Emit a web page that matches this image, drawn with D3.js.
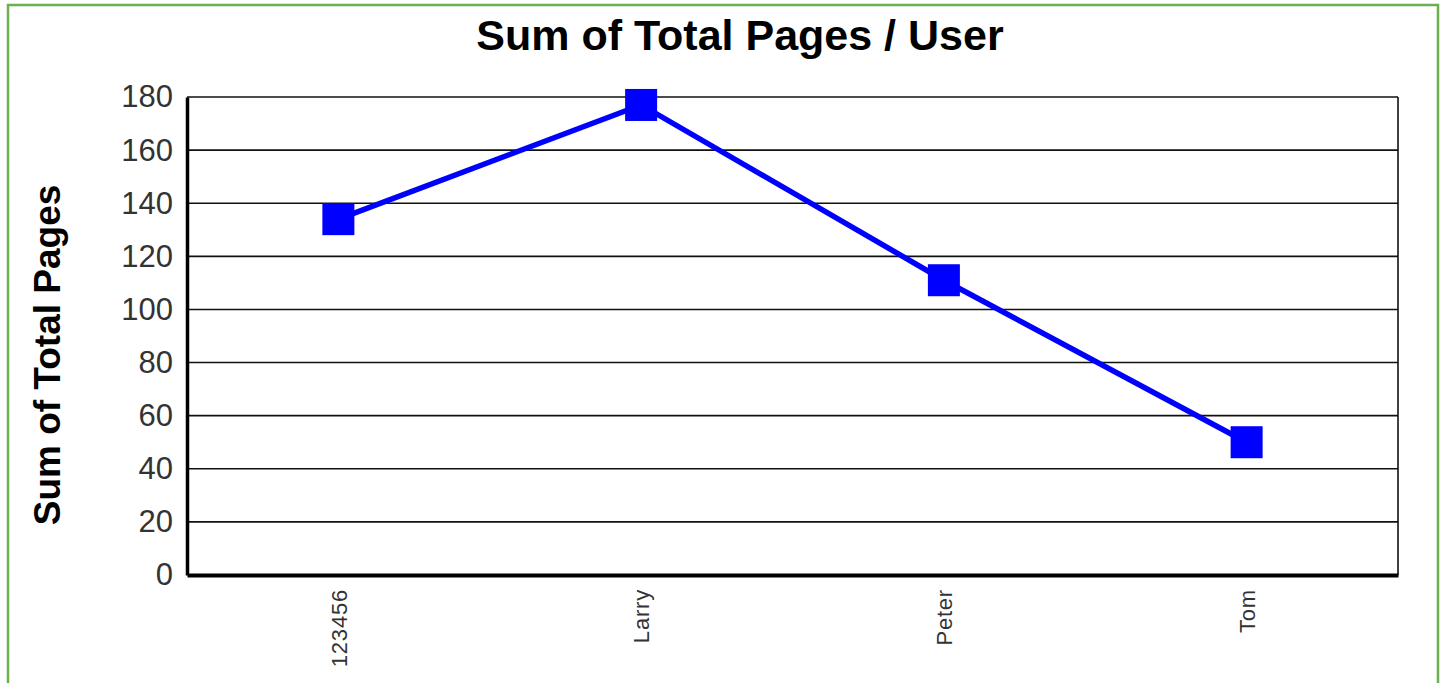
<!DOCTYPE html>
<html>
<head>
<meta charset="utf-8">
<script src="https://cdn.jsdelivr.net/npm/d3@7"></script>
<style>
  body { margin: 0; background: #fff; }
  svg text { font-family: "Liberation Sans", Arial, sans-serif; }
</style>
</head>
<body>
<div id="chart"></div>
<script>
var users = ["123456", "Larry", "Peter", "Tom"];
var totalPages = [134, 177, 111, 50];
var yTicks = [0, 20, 40, 60, 80, 100, 120, 140, 160, 180];

var W = 1445, H = 683;
var margin = {top: 97, right: 47, bottom: 108, left: 187};
var w = W - margin.left - margin.right,
    h = H - margin.top - margin.bottom;

var svg = d3.select("#chart").append("svg")
    .attr("width", W)
    .attr("height", H);

// outer green frame
svg.append("rect")
   .attr("x", 8).attr("y", 5)
   .attr("width", 1430).attr("height", 690)
   .attr("fill", "none")
   .attr("stroke", "#6ab04c")
   .attr("stroke-width", 2.5);

svg.append("text")
   .attr("x", 740).attr("y", 50)
   .attr("text-anchor", "middle")
   .attr("font-size", 43).attr("font-weight", "bold")
   .text("Sum of Total Pages / User");

svg.append("text")
   .attr("transform", "translate(60,355) rotate(-90)")
   .attr("text-anchor", "middle")
   .attr("font-size", 37).attr("font-weight", "bold")
   .text("Sum of Total Pages");

var g = svg.append("g")
    .attr("transform", "translate(" + margin.left + "," + margin.top + ")");

var xScale = d3.scalePoint().domain(users).range([0, w]).padding(0.5);
var yScale = d3.scaleLinear().domain([0, 180]).range([h, 0]);

// gridlines
g.selectAll("line.grid")
  .data(yTicks.slice(1))
  .enter().append("line")
  .attr("class", "grid")
  .attr("x1", 0).attr("x2", w)
  .attr("y1", function(d){ return yScale(d); })
  .attr("y2", function(d){ return yScale(d); })
  .attr("stroke", "#111")
  .attr("stroke-width", 1.6);

// right border
g.append("line")
  .attr("x1", w).attr("x2", w).attr("y1", 0).attr("y2", h)
  .attr("stroke", "#111").attr("stroke-width", 1.6);

// y axis
var yAxis = d3.axisLeft(yScale).tickValues(yTicks).tickSize(0).tickPadding(14);
var ya = g.append("g").call(yAxis);
ya.select(".domain").attr("stroke", "#000").attr("stroke-width", 3.5);
ya.selectAll("text").attr("font-size", 31).attr("fill", "#333")
  .attr("font-family", "Liberation Sans, Arial, sans-serif");

// x axis
var xAxis = d3.axisBottom(xScale).tickSize(0);
var xa = g.append("g").attr("transform", "translate(0," + h + ")").call(xAxis);
xa.select(".domain").attr("stroke", "#000").attr("stroke-width", 4);
xa.selectAll("text")
  .attr("font-size", 22).attr("fill", "#333")
  .attr("letter-spacing", 0.8)
  .attr("font-family", "Liberation Sans, Arial, sans-serif")
  .attr("transform", "rotate(-90)")
  .attr("text-anchor", "end")
  .attr("dy", "0.35em")
  .attr("x", -14).attr("y", 0);

// line
var line = d3.line()
  .x(function(d, i){ return xScale(users[i]); })
  .y(function(d){ return yScale(d); });

g.append("path")
  .datum(totalPages)
  .attr("d", line)
  .attr("fill", "none")
  .attr("stroke", "#0000ff")
  .attr("stroke-width", 5.5);

var s = 32;
g.selectAll("rect.marker")
  .data(totalPages)
  .enter().append("rect")
  .attr("class", "marker")
  .attr("x", function(d, i){ return xScale(users[i]) - s / 2; })
  .attr("y", function(d){ return yScale(d) - s / 2; })
  .attr("width", s).attr("height", s)
  .attr("fill", "#0000ff");
</script>
</body>
</html>
